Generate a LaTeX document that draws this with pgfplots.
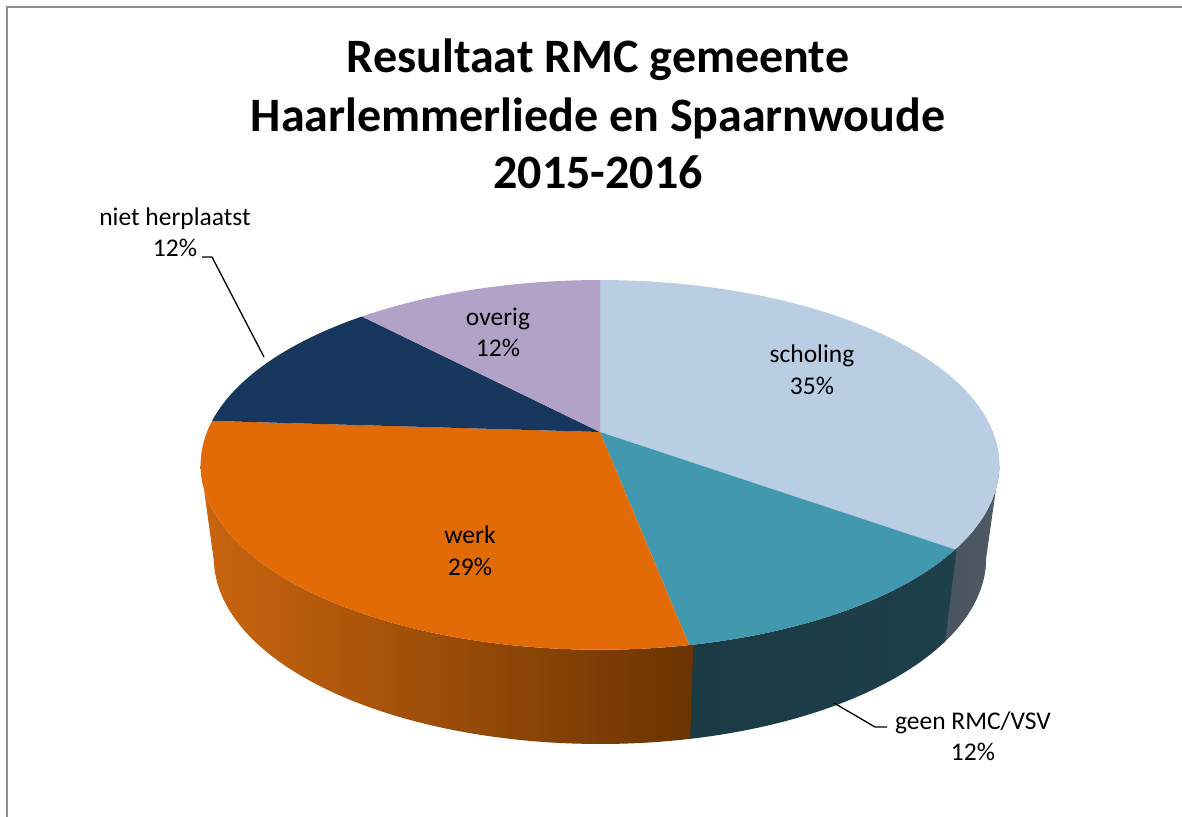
\documentclass[border=0pt]{standalone}
\usepackage{pgfplots}
\usepackage{pgfplotstable}
\pgfplotsset{compat=1.18}
\usepackage{fontspec}
\setmainfont{Carlito}

\definecolor{cSch}{HTML}{B9CDE3}
\definecolor{cGeen}{HTML}{4198AF}
\definecolor{cWerk}{HTML}{E26B08}
\definecolor{cNiet}{HTML}{17375E}
\definecolor{cOver}{HTML}{B3A2C7}
\definecolor{sSchL}{HTML}{4A545E}
\definecolor{sSchR}{HTML}{4F5A64}
\definecolor{sGeenL}{HTML}{1A3A44}
\definecolor{sGeenR}{HTML}{1E404B}
\definecolor{sWerkL}{HTML}{CA650F}
\definecolor{sWerkR}{HTML}{6A3402}
\definecolor{frame}{HTML}{8E8E8E}

\pgfplotstableread{
label value
scholing 35
geen 12
werk 29
niet 12
overig 12
}\pietable

% cumulative angles (degrees, clockwise from the back)
\pgfplotstablegetelem{0}{value}\of\pietable\pgfmathsetmacro\aB{3.6*\pgfplotsretval}
\pgfplotstablegetelem{1}{value}\of\pietable\pgfmathsetmacro\aC{\aB+3.6*\pgfplotsretval}
\pgfplotstablegetelem{2}{value}\of\pietable\pgfmathsetmacro\aD{\aC+3.6*\pgfplotsretval}
\pgfplotstablegetelem{3}{value}\of\pietable\pgfmathsetmacro\aE{\aD+3.6*\pgfplotsretval}
\pgfplotstablegetelem{4}{value}\of\pietable\pgfmathsetmacro\aF{\aE+3.6*\pgfplotsretval}
\pgfmathsetmacro\aA{0}
% visible side limits
\pgfmathsetmacro\vR{100.3}
\pgfmathsetmacro\vL{259.7}
\pgfmathsetmacro\sB{\aB-0.5}
\pgfmathsetmacro\sC{\aC-0.5}
\pgfmathsetmacro\dS{\aB-\vR}
\pgfmathsetmacro\dG{\aC-\sB}
\pgfmathsetmacro\dW{\vL-\sC}

\begin{document}%
\begin{tikzpicture}
\begin{axis}[
  at={(0,0)}, anchor=south west,
  scale only axis, width=1182pt, height=816pt,
  xmin=0, xmax=1182, ymin=0, ymax=816, y dir=reverse,
  hide axis, clip=false,
  declare function={
    tx(\p)=600+393*sin(\p)/(1+0.178*cos(\p));
    ty(\p)=432-179*cos(\p)/(1+0.178*cos(\p));
    bx(\p)=600+380*sin(\p)/(1+0.178*cos(\p));
    by(\p)=525-180*cos(\p)/(1+0.178*cos(\p));
  },
]
% frame
\draw[frame, line width=2pt] (axis cs:7,820) -- (axis cs:7,7) -- (axis cs:1186,7);

% side faces
\addplot[draw=none, left color=sSchL, right color=sSchR, domain=0:2, samples=201, variable=\t]
  ({(\t<=1) ? tx(\vR+\t*\dS) : bx(\aB-(\t-1)*\dS)},
   {(\t<=1) ? ty(\vR+\t*\dS) : by(\aB-(\t-1)*\dS)}) -- cycle;
\addplot[draw=none, left color=sGeenL, right color=sGeenR, domain=0:2, samples=201, variable=\t]
  ({(\t<=1) ? tx(\sB+\t*\dG) : bx(\aC-(\t-1)*\dG)},
   {(\t<=1) ? ty(\sB+\t*\dG) : by(\aC-(\t-1)*\dG)}) -- cycle;
\addplot[draw=none, left color=sWerkL, right color=sWerkR, domain=0:2, samples=201, variable=\t]
  ({(\t<=1) ? tx(\sC+\t*\dW) : bx(\vL-(\t-1)*\dW)},
   {(\t<=1) ? ty(\sC+\t*\dW) : by(\vL-(\t-1)*\dW)}) -- cycle;

% top faces
\addplot[fill=cSch, draw=none, domain=\aA:\aB, samples=90, variable=\p]
  ({tx(\p)},{ty(\p)}) -- (axis cs:600,432) -- cycle;
\addplot[fill=cGeen, draw=none, domain=\aB:\aC, samples=40, variable=\p]
  ({tx(\p)},{ty(\p)}) -- (axis cs:600,432) -- cycle;
\addplot[fill=cWerk, draw=none, domain=\aC:\aD, samples=80, variable=\p]
  ({tx(\p)},{ty(\p)}) -- (axis cs:600,432) -- cycle;
\addplot[fill=cNiet, draw=none, domain=\aD:\aE, samples=40, variable=\p]
  ({tx(\p)},{ty(\p)}) -- (axis cs:600,432) -- cycle;
\addplot[fill=cOver, draw=none, domain=\aE:\aF, samples=40, variable=\p]
  ({tx(\p)},{ty(\p)}) -- (axis cs:600,432) -- cycle;

% title
\begin{scope}[every node/.style={font=\fontsize{48}{57}\selectfont\bfseries, anchor=base, inner sep=0pt}]
\node at (axis cs:598,73) {Resultaat RMC gemeente};
\node at (axis cs:598,131) {Haarlemmerliede en Spaarnwoude};
\node at (axis cs:598,188) {2015-2016};
\end{scope}

% labels
\begin{scope}[every node/.style={font=\fontsize{25.5}{30}\selectfont, anchor=base, inner sep=0pt}]
\node at (axis cs:812,362) {scholing};
\node at (axis cs:812,394) {35\%};
\node at (axis cs:498,325) {overig};
\node at (axis cs:498,356) {12\%};
\node at (axis cs:470,543) {werk};
\node at (axis cs:470,575) {29\%};
\node at (axis cs:175,225) {niet herplaatst};
\node at (axis cs:175,256) {12\%};
\node at (axis cs:973,729) {geen RMC/VSV};
\node at (axis cs:973,760) {12\%};
\end{scope}

% leader lines
\draw[black, line width=1.3pt] (axis cs:202,257) -- (axis cs:212,257) -- (axis cs:264,357);
\draw[black, line width=1.3pt] (axis cs:834,703) -- (axis cs:875,727) -- (axis cs:887,727);
\end{axis}
\pgfresetboundingbox
\path[use as bounding box] (0,0) rectangle (1182pt,816pt);
\end{tikzpicture}%
\end{document}
